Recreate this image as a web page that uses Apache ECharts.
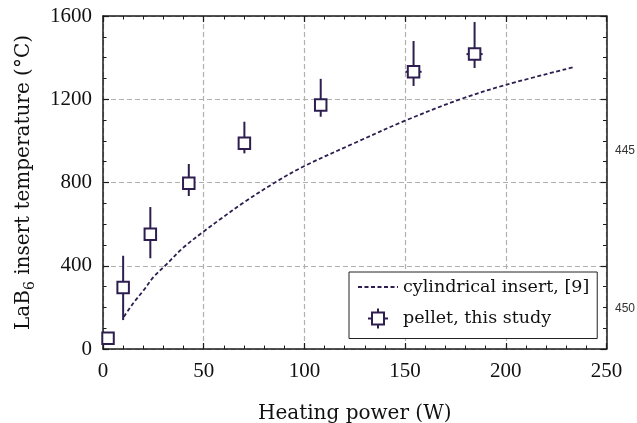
<!DOCTYPE html>
<html>
<head>
<meta charset="utf-8">
<script src="https://cdn.jsdelivr.net/npm/echarts@6/dist/echarts.min.js"></script>
<style>html,body{margin:0;padding:0;background:#fff}#c{width:637px;height:423px}</style>
</head>
<body>
<div id="c"></div>
<script>
// Measured pellet data (this study)
const pelletPower    = [2.5, 10, 23.5, 42.6, 70.2, 108.1, 154.2, 184.5];
const pelletTemp     = [52, 295, 551, 796, 988, 1172, 1332, 1417];
const pelletTempLow  = [52, 139, 436, 735, 940, 1116, 1264, 1350];
const pelletTempHigh = [52, 448, 682, 889, 1092, 1298, 1480, 1571];
const pelletPowerErr = [0, 0, 0, 0, 0, 3, 4, 4];

// Cylindrical insert, [9]
const cylPower = [10.4, 15, 20, 25, 30.8, 40, 50, 58, 70, 85.4, 100, 125, 150, 177.4, 200, 233.6];
const cylTemp  = [155, 220, 280, 345, 400, 488, 565, 622, 705, 800, 879, 990, 1097, 1200, 1269, 1354];

const xTicks = [0, 50, 100, 150, 200, 250];
const yTicks = [0, 400, 800, 1200, 1600];

const seriesNames = ['cylindrical insert, [9]', 'pellet, this study'];
const rightNotes = ['445', '450'];

const PURPLE = '#2d1e4f';
const SERIF = '"DejaVu Serif", "Liberation Serif", serif';
const TICKFONT = '"Liberation Serif", serif';
const AX = '#1a1a1a';

const chart = echarts.init(document.getElementById('c'), null, {renderer: 'canvas'});

function axisCommon(extra) {
  return Object.assign({
    type: 'value',
    axisLine: {show: true, onZero: false, lineStyle: {color: AX, width: 1.5}},
    axisTick: {show: true, inside: true, length: 6, lineStyle: {color: AX, width: 1.2}},
    minorTick: {show: true, length: 3.5, lineStyle: {color: AX, width: 1}},
    splitLine: {show: false}
  }, extra);
}

const xMin = xTicks[0], xMax = xTicks[xTicks.length - 1], xInt = xTicks[1] - xTicks[0];
const yMin = yTicks[0], yMax = yTicks[yTicks.length - 1], yInt = yTicks[1] - yTicks[0];
const plain = v => String(v);

const option = {
  animation: false,
  backgroundColor: '#fff',
  grid: {left: 103, right: 30.5, top: 16, bottom: 74, containLabel: false, outerBoundsMode: 'none'},
  xAxis: [
    axisCommon({
      position: 'bottom', min: xMin, max: xMax, interval: xInt,
      minorTick: {show: true, splitNumber: 5, length: 3.5, lineStyle: {color: AX, width: 1}},
      axisLabel: {margin: 12, fontFamily: TICKFONT, fontSize: 21, color: '#111', formatter: plain},
      splitLine: {show: true, lineStyle: {type: [5, 3], color: '#b0b0b0', width: 1.2}},
      name: 'Heating power (W)', nameLocation: 'middle', nameGap: 55,
      nameTextStyle: {fontFamily: SERIF, fontSize: 20, color: '#111'}
    }),
    axisCommon({
      position: 'top', min: xMin, max: xMax, interval: xInt,
      minorTick: {show: true, splitNumber: 5, length: 3.5, lineStyle: {color: AX, width: 1}},
      axisLabel: {show: false}
    })
  ],
  yAxis: [
    axisCommon({
      position: 'left', min: yMin, max: yMax, interval: yInt,
      minorTick: {show: true, splitNumber: 4, length: 3.5, lineStyle: {color: AX, width: 1}},
      axisLabel: {margin: 11, fontFamily: TICKFONT, fontSize: 21, color: '#111', formatter: plain},
      splitLine: {show: true, lineStyle: {type: [5, 3], color: '#b0b0b0', width: 1.2}},
      name: '{n|LaB}{s|6}{n| insert temperature (°C)}', nameLocation: 'middle', nameGap: 66,
      nameRotate: 90,
      nameTextStyle: {
        fontFamily: SERIF, fontSize: 20, color: '#111',
        rich: {
          n: {fontFamily: SERIF, fontSize: 20, color: '#111', lineHeight: 26, verticalAlign: 'middle'},
          s: {fontFamily: SERIF, fontSize: 14, color: '#111', lineHeight: 26, verticalAlign: 'bottom'}
        }
      }
    }),
    axisCommon({
      position: 'right', min: yMin, max: yMax, interval: yInt,
      minorTick: {show: true, splitNumber: 4, length: 3.5, lineStyle: {color: AX, width: 1}},
      axisLabel: {show: false}
    })
  ],
  legend: {
    left: 349, top: 272, orient: 'vertical', align: 'left',
    itemWidth: 40, itemHeight: 20, itemGap: 11.5,
    padding: [6, 8, 9, 8],
    backgroundColor: '#fff', borderColor: '#222', borderWidth: 1, borderRadius: 0,
    textStyle: {fontFamily: SERIF, fontSize: 17.5, color: '#111'},
    data: [
      {name: seriesNames[0],
       itemStyle: {color: 'rgba(0,0,0,0)', borderColor: 'rgba(0,0,0,0)', borderWidth: 0, opacity: 0}},
      {name: seriesNames[1],
       icon: 'path://M4 4 L16 4 L16 16 L4 16 Z M10 0 L10 4 M10 16 L10 20 M0 10 L4 10 M16 10 L20 10',
       itemStyle: {color: '#fff', borderColor: PURPLE, borderWidth: 2}}
    ]
  },
  series: [
    {
      name: seriesNames[0], type: 'line', xAxisIndex: 0, yAxisIndex: 0,
      data: cylPower.map((p, i) => [p, cylTemp[i]]),
      smooth: 0.35, symbol: 'none',
      lineStyle: {color: PURPLE, width: 1.8, type: [4, 2.5]},
      itemStyle: {color: PURPLE},
      z: 3
    },
    {
      name: 'errorbars', type: 'custom', xAxisIndex: 0, yAxisIndex: 0,
      data: pelletPower.map((p, i) => [p, pelletTemp[i], pelletTempLow[i], pelletTempHigh[i], pelletPowerErr[i]]),
      encode: {x: 0, y: 1},
      renderItem: function (params, api) {
        const x = api.value(0), y = api.value(1), lo = api.value(2), hi = api.value(3), xe = api.value(4);
        const children = [];
        if (hi > lo) {
          const a = api.coord([x, lo]), b = api.coord([x, hi]);
          children.push({type: 'line', shape: {x1: a[0], y1: a[1], x2: b[0], y2: b[1]},
            style: {stroke: PURPLE, lineWidth: 2}});
        }
        if (xe > 0) {
          const a = api.coord([x - xe, y]), b = api.coord([x + xe, y]);
          children.push({type: 'line', shape: {x1: a[0], y1: a[1], x2: b[0], y2: b[1]},
            style: {stroke: PURPLE, lineWidth: 2}});
        }
        return {type: 'group', children: children};
      },
      z: 4
    },
    {
      name: seriesNames[1], type: 'scatter', xAxisIndex: 0, yAxisIndex: 0,
      data: pelletPower.map((p, i) => [p, pelletTemp[i]]),
      symbol: 'rect', symbolSize: 11.5,
      itemStyle: {color: '#fff', borderColor: PURPLE, borderWidth: 2, opacity: 1},
      z: 5
    }
  ],
  graphic: [
    {type: 'text', left: 615, top: 145, style: {text: rightNotes[0], fontFamily: '"Liberation Sans", sans-serif', fontSize: 12, fill: '#333'}},
    {type: 'text', left: 615, top: 303, style: {text: rightNotes[1], fontFamily: '"Liberation Sans", sans-serif', fontSize: 12, fill: '#333'}}
  ]
};
chart.setOption(option);
</script>
</body>
</html>
